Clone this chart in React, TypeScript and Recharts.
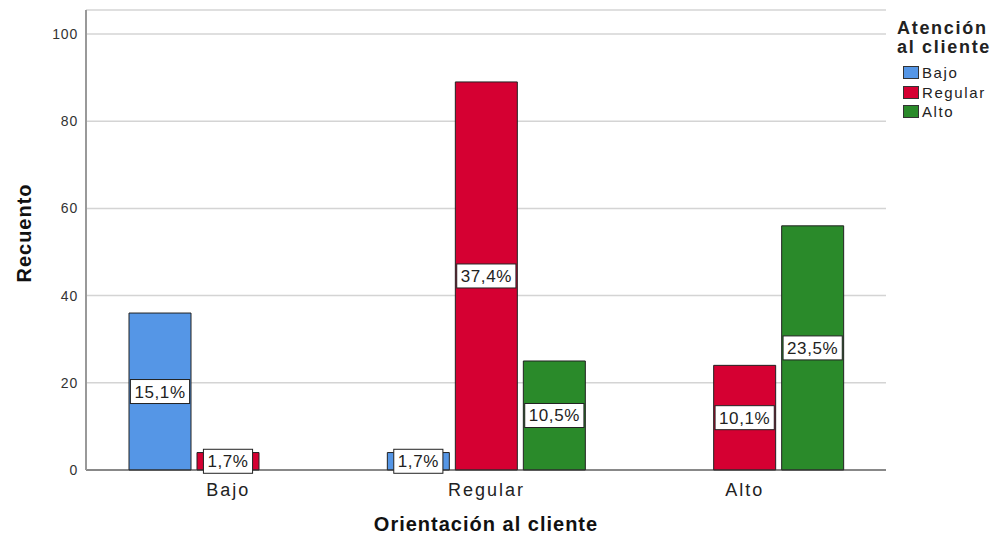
import React from 'react';
import {
  BarChart,
  Bar,
  XAxis,
  YAxis,
  CartesianGrid,
  Legend,
  LabelList,
} from 'recharts';

// Recuento por categoría de "Orientación al cliente" (Bajo, Regular, Alto)
const categories = ['Bajo', 'Regular', 'Alto'];
const bajoCounts: (number | null)[] = [36, 4, null];
const regularCounts: (number | null)[] = [4, 89, 24];
const altoCounts: (number | null)[] = [null, 25, 56];
const yTicks = [0, 20, 40, 60, 80, 100];

const seriesNames = ['Bajo', 'Regular', 'Alto'];
const seriesColors = ['#5596e6', '#d50032', '#2a8a2a'];

const FONT = '"Liberation Sans", Arial, sans-serif';

const data = categories.map((name, i) => ({
  name,
  bajo: bajoCounts[i],
  regular: regularCounts[i],
  alto: altoCounts[i],
}));

const total = [...bajoCounts, ...regularCounts, ...altoCounts].reduce<number>(
  (acc, v) => acc + (v ?? 0),
  0
);

// rough Arial widths (em) for the percent boxes
const charWidth = (c: string) => (c === ',' ? 0.278 : c === '%' ? 0.889 : 0.556);

const PctLabel = (props: any) => {
  const { value } = props;
  if (value == null) return null;
  const x = Number(props.x);
  const y = Number(props.y);
  const width = Number(props.width);
  const height = Number(props.height);
  const text = ((value / total) * 100).toFixed(1).replace('.', ',') + '%';
  const fontSize = 17;
  const spacing = 0.6;
  const w = text.split('').reduce((a, c) => a + charWidth(c) * fontSize + spacing, 0) + 8;
  const cx = x + width / 2;
  const cy = y + height / 2;
  return (
    <g>
      <rect x={cx - w / 2} y={cy - 12} width={w} height={24} fill="#fff" stroke="#222" strokeWidth={1} />
      <text
        x={cx}
        y={cy + 6}
        textAnchor="middle"
        fontFamily={FONT}
        fontSize={fontSize}
        letterSpacing={spacing}
        fill="#222"
      >
        {text}
      </text>
    </g>
  );
};

const YTitle = ({ viewBox }: any) => {
  const x = viewBox.x + 31;
  const y = viewBox.y + viewBox.height / 2 - 7;
  return (
    <text
      x={x}
      y={y}
      transform={`rotate(-90, ${x}, ${y})`}
      textAnchor="middle"
      fontFamily={FONT}
      fontSize={20}
      fontWeight={700}
      letterSpacing={1}
      fill="#111"
    >
      Recuento
    </text>
  );
};

const LegendBox = ({ payload }: any) => {
  const items = [...(payload || [])].sort(
    (a: any, b: any) => seriesNames.indexOf(a.value) - seriesNames.indexOf(b.value)
  );
  const titleStyle = { fontWeight: 700, fontSize: 18, lineHeight: '19px', letterSpacing: 1.7 };
  return (
    <div style={{ fontFamily: FONT, color: '#222', whiteSpace: 'nowrap' }}>
      <div style={titleStyle}>Atención</div>
      <div style={titleStyle}>al cliente</div>
      <div style={{ marginTop: 6 }}>
        {items.map((item: any) => (
          <div
            key={item.value}
            style={{ display: 'flex', alignItems: 'center', height: 19.5, fontSize: 15, letterSpacing: 1.6 }}
          >
            <span
              style={{
                display: 'inline-block',
                width: 14,
                height: 11,
                background: item.color,
                border: '1px solid #333',
                marginLeft: 6,
                marginRight: 3,
              }}
            />
            {item.value}
          </div>
        ))}
      </div>
    </div>
  );
};

export default function App() {
  const keys = ['bajo', 'regular', 'alto'];
  return (
    <div style={{ position: 'absolute', left: 0, top: 0, background: '#fff' }}>
      <BarChart
        width={994}
        height={535}
        data={data}
        margin={{ top: 10, right: 108, left: 0, bottom: 3 }}
        barSize={62}
        barGap={6}
      >
        <CartesianGrid horizontal vertical={false} stroke="#d4d4d4" strokeWidth={1.5} />
        <XAxis
          dataKey="name"
          height={62}
          padding={{ left: 13, right: 12 }}
          axisLine={{ stroke: '#333', strokeWidth: 1 }}
          tickLine={false}
          tickMargin={7}
          tick={{ fontFamily: FONT, fontSize: 18, fill: '#222', letterSpacing: 2 }}
          label={{
            value: 'Orientación al cliente',
            position: 'insideBottom',
            offset: 1,
            style: { fontFamily: FONT, fontSize: 20, fontWeight: 700, fill: '#111', letterSpacing: 1 },
          }}
        />
        <YAxis
          width={86}
          domain={[0, 105.5]}
          ticks={yTicks}
          axisLine={{ stroke: '#999', strokeWidth: 2 }}
          tickLine={false}
          tick={{ fontFamily: FONT, fontSize: 14, fill: '#333', letterSpacing: 0.8 }}
          label={<YTitle />}
        />
        <Legend
          layout="vertical"
          align="center"
          verticalAlign="middle"
          content={<LegendBox />}
          wrapperStyle={{ top: 19, left: 897, width: 97 }}
        />
        {keys.map((k, i) => (
          <Bar
            key={k}
            dataKey={k}
            name={seriesNames[i]}
            fill={seriesColors[i]}
            stroke="#222"
            strokeWidth={1}
            isAnimationActive={false}
          >
            <LabelList dataKey={k} content={<PctLabel />} />
          </Bar>
        ))}
      </BarChart>
    </div>
  );
}
